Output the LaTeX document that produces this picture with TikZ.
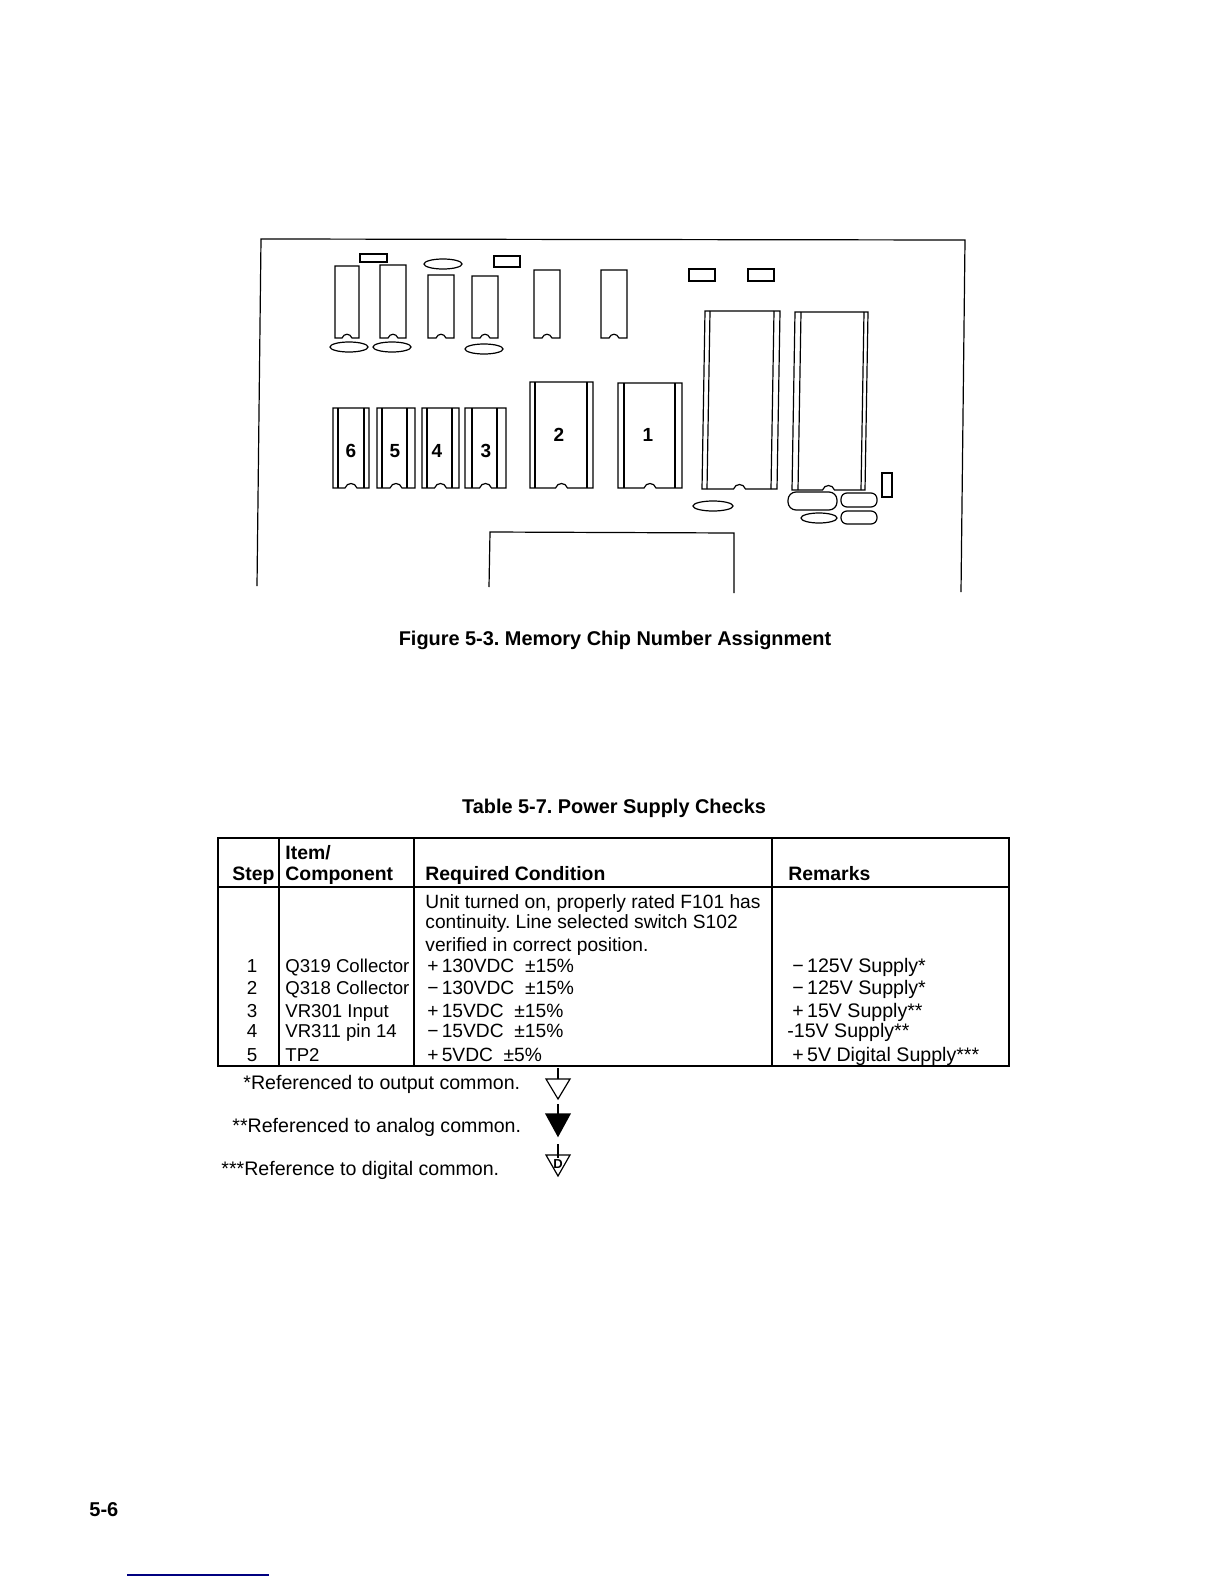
\documentclass[tikz,border=0pt]{standalone}
\usepackage{fontspec}
\setmainfont{Liberation Sans}
\tikzset{
  part/.style={draw,line width=0.6pt},
  txt/.style={anchor=base west,inner sep=0pt,font=\fontsize{9.3}{11}\selectfont},
  cond/.style={anchor=base west,inner sep=0pt,font=\fontsize{9.6}{11}\selectfont},
  rem/.style={anchor=base west,inner sep=0pt,font=\fontsize{9.8}{11}\selectfont},
  hdr/.style={anchor=base west,inner sep=0pt,font=\fontsize{9.7}{11}\bfseries\selectfont},
  chipno/.style={inner sep=0pt,font=\fontsize{9.5}{11}\bfseries\selectfont}
}
\begin{document}
\frenchspacing
\begin{tikzpicture}[x=0.5pt,y=-0.5pt]
\useasboundingbox (0,0) rectangle (1224,1584);
\draw[part] (257,586) -- (261,239) -- (965,240) -- (961,592);
\draw[part] (489,587) -- (490,532) -- (734,533) -- (734,593);
\foreach \xl/\xr/\yt in {335/359/266,380/406/265,428/454/275,472/498/276,534/560/270,601/627/270}{
  \pgfmathsetmacro{\cx}{(\xl+\xr)/2}
  \draw[part] (\xl,\yt) -- (\xr,\yt) -- (\xr,338) -- (\cx+5,338) .. controls (\cx+3,333) and (\cx-3,333) .. (\cx-5,338) -- (\xl,338) -- cycle;
}
\foreach \xl/\il/\ir/\xr/\yt/\yb/\sk in {333/338/364/369/408/488/0,377/382/407/415/408/488/0,422/427/452/459/408/488/0,465/472/497/506/408/488/0,530/535/587/593/382/488/0,618/624/675/682/383/488/0,705/710/774/780/311/489/3,795/801/864/868/312/490/3}{
  \pgfmathsetmacro{\cx}{(\xl+\xr)/2-\sk}
  \draw[part] (\xl,\yt) -- (\xr,\yt) -- (\xr-\sk,\yb) -- (\cx+6,\yb) .. controls (\cx+4,\yb-6) and (\cx-4,\yb-6) .. (\cx-6,\yb) -- (\xl-\sk,\yb) -- cycle;
  \draw[part] (\il,\yt) -- (\il-\sk,\yb);
  \draw[part] (\ir,\yt) -- (\ir-\sk,\yb);
}
\foreach \xa/\ya/\xb/\yb in {360/254/387/262,494/256/520/267,689/269/715/281,748/269/774/281,882/473/892/497}{
  \draw[part] (\xa,\ya) rectangle (\xb,\yb);
}
\foreach \cx/\cy/\rx/\ry in {443/264/19/5,349/347/19/5,392/347/19/5,484/349/19/5,713/506/20/5,819/518/18/5}{
  \draw[part] (\cx,\cy) ellipse [x radius=\rx,y radius=\ry];
}
\draw[part,rounded corners=4pt] (788,492) rectangle (837,510);
\draw[part,rounded corners=3pt] (841,493) rectangle (877,507);
\draw[part,rounded corners=3pt] (841,511) rectangle (877,524);
\foreach \n/\x/\y in {6/351/451,5/395/451,4/437/451,3/486/451,2/559/435,1/648/435}{
  \node[chipno] (chip\n) at (\x,\y) {\n};
}
\node[anchor=base,inner sep=0pt,font=\fontsize{9.95}{12}\bfseries\selectfont] (figcap) at (615,645) {Figure 5-3. Memory Chip Number Assignment};
\node[anchor=base,inner sep=0pt,font=\fontsize{9.95}{12}\bfseries\selectfont] (tabcap) at (614,813) {Table 5-7. Power Supply Checks};
\draw[part] (218,838) rectangle (1009,1066);
\draw[part] (218,887) -- (1009,887);
\draw[part] (279,838) -- (279,1066);
\draw[part] (414,838) -- (414,1066);
\draw[part] (772,838) -- (772,1066);
\node[hdr] (hstep) at (232,880) {Step};
\node[hdr] (hitem) at (285,859) {Item/};
\node[hdr] (hcomp) at (285,880) {Component};
\node[hdr] (hcond) at (425,880) {Required Condition};
\node[hdr] (hrem) at (788,880) {Remarks};
\node[cond] (unit) at (425,908) {Unit turned on, properly rated F101 has};
\node[cond] (cont) at (425,928) {continuity. Line selected switch S102};
\node[cond] (veri) at (425,951) {verified in correct position.};
\foreach \r/\y/\comp/\val/\note/\xr in {1/972/Q319 Collector/+\,130VDC\ \ ±15\%/−\,125V Supply*/792,2/994/Q318 Collector/−\,130VDC\ \ ±15\%/−\,125V Supply*/792,3/1017/VR301 Input/+\,15VDC\ \ ±15\%/+\,15V Supply**/792,4/1037/VR311 pin 14/−\,15VDC\ \ ±15\%/-15V Supply**/787,5/1061/TP2/+\,5VDC\ \ ±5\%/+\,5V Digital Supply***/792}{
  \node[anchor=base,inner sep=0pt,font=\fontsize{9.4}{11}\selectfont] (step\r) at (252,\y) {\r};
  \node[txt] (comp\r) at (285,\y) {\comp};
  \node[cond] (cond\r) at (427,\y) {\val};
  \node[rem] (rem\r) at (\xr,\y) {\note};
}
\node[rem] (noteo) at (243,1089) {*Referenced to output common.};
\node[rem] (notea) at (232,1132) {**Referenced to analog common.};
\node[rem] (noted) at (221,1175) {***Reference to digital common.};
\draw[part] (558,1068) -- (558,1079);
\draw[part] (546,1079) -- (570,1079) -- (558,1099) -- cycle;
\draw[part] (558,1104) -- (558,1114);
\draw[part,fill=black] (546,1114) -- (570,1114) -- (558,1136) -- cycle;
\draw[part] (546,1155) -- (570,1155) -- (558,1176) -- cycle;
\draw[part] (558,1144) -- (558,1158);
\node[inner sep=0pt,font=\fontsize{6.5}{7}\bfseries\selectfont] (digd) at (558,1164) {D};
\node[anchor=base west,inner sep=0pt,font=\fontsize{10}{12}\bfseries\selectfont] (pageno) at (89,1516) {5-6};
\draw[line width=0.6pt,color=blue!50!black] (127,1575) -- (269,1575);
\end{tikzpicture}
\end{document}
